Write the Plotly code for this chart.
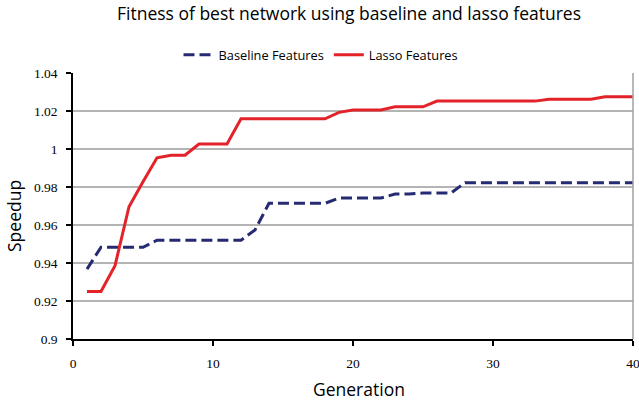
import plotly.graph_objects as go

generation = list(range(1, 41))
baseline = [0.9368, 0.9483, 0.9483, 0.9483, 0.9483, 0.952, 0.952, 0.952, 0.952, 0.952,
            0.952, 0.952, 0.9574, 0.9714, 0.9714, 0.9714, 0.9714, 0.9714, 0.9742, 0.9742,
            0.9742, 0.9742, 0.9763, 0.9763, 0.9768, 0.9768, 0.9768, 0.9823, 0.9823, 0.9823,
            0.9823, 0.9823, 0.9823, 0.9823, 0.9823, 0.9823, 0.9823, 0.9823, 0.9823, 0.9823]
lasso = [0.925, 0.925, 0.9386, 0.9696, 0.9828, 0.9954, 0.9967, 0.9967, 1.0026, 1.0026,
         1.0026, 1.0159, 1.0159, 1.0159, 1.0159, 1.0159, 1.0159, 1.0159, 1.0193, 1.0205,
         1.0205, 1.0205, 1.0222, 1.0222, 1.0222, 1.0252, 1.0252, 1.0252, 1.0252, 1.0252,
         1.0252, 1.0252, 1.0252, 1.0262, 1.0262, 1.0262, 1.0262, 1.0275, 1.0275, 1.0275]
x_ticks = [0, 10, 20, 30, 40]
y_ticks = [0.9, 0.92, 0.94, 0.96, 0.98, 1.0, 1.02, 1.04]
y_tick_text = ["0.9", "0.92", "0.94", "0.96", "0.98", "1", "1.02", "1.04"]

W, H = 639, 402
L, R, T, B = 73, 6, 73, 63
PW, PH = W - L - R, H - T - B

sans = "Open Sans, sans-serif"
serif = "Liberation Serif, Times New Roman, serif"

fig = go.Figure()
fig.add_trace(go.Scatter(x=generation, y=baseline, mode="lines", name="Baseline Features",
                         line=dict(color="#262a72", width=3, dash="11px,5px")))
fig.add_trace(go.Scatter(x=generation, y=lasso, mode="lines", name="Lasso Features",
                         line=dict(color="#e3222a", width=3)))

fig.update_layout(
    width=W, height=H,
    margin=dict(l=L, r=R, t=T, b=B, autoexpand=False),
    paper_bgcolor="white", plot_bgcolor="white",
    showlegend=True,
    title=dict(text="Fitness of best network using baseline and lasso features",
               x=349 / W, xanchor="center", xref="container",
               y=1 - 14 / H, yanchor="middle",
               font=dict(family=sans, size=17.5, color="black")),
    legend=dict(orientation="h", x=321 / W, xref="container", xanchor="center",
                y=1 - 55 / H, yref="container", yanchor="middle",
                font=dict(family=sans, size=12.8, color="black"),
                itemwidth=30, tracegroupgap=0, bgcolor="rgba(0,0,0,0)"),
    xaxis=dict(range=[0, 40], tickvals=x_ticks, ticks="outside", ticklen=5, tickcolor="black",
               tickwidth=1.5, showline=True, linecolor="black", linewidth=1.5, mirror=False,
               showgrid=False, zeroline=False, ticklabelstandoff=6,
               ticklabeloverflow="allow",
               tickfont=dict(family=serif, size=13.5, color="black")),
    yaxis=dict(range=[0.9, 1.04], tickvals=y_ticks, ticktext=y_tick_text, ticks="outside",
               ticklen=5, tickcolor="black", tickwidth=1.5, showline=True, linecolor="black",
               linewidth=1.5, showgrid=True, gridcolor="#b4b4b4", gridwidth=1.5,
               zeroline=False, ticklabelstandoff=6,
               tickfont=dict(family=serif, size=13.5, color="black")),
    annotations=[
        dict(text="Generation", x=(359 - L) / PW, y=(H - B - 389) / PH,
             xref="paper", yref="paper", xanchor="center", yanchor="middle",
             showarrow=False, font=dict(family=sans, size=17.5, color="black")),
        dict(text="Speedup", x=(14 - L) / PW, y=(H - B - 216) / PH,
             xref="paper", yref="paper", xanchor="center", yanchor="middle", textangle=-90,
             showarrow=False, font=dict(family=sans, size=17.5, color="black")),
    ],
    shapes=[
        dict(type="line", xref="paper", yref="paper", x0=1, x1=1, y0=0, y1=1,
             line=dict(color="#a0a0a0", width=1.5)),
    ],
)

fig.write_html("out.html", config={"displayModeBar": False},
               post_script="document.body.style.margin='0';document.body.style.padding='0';")
